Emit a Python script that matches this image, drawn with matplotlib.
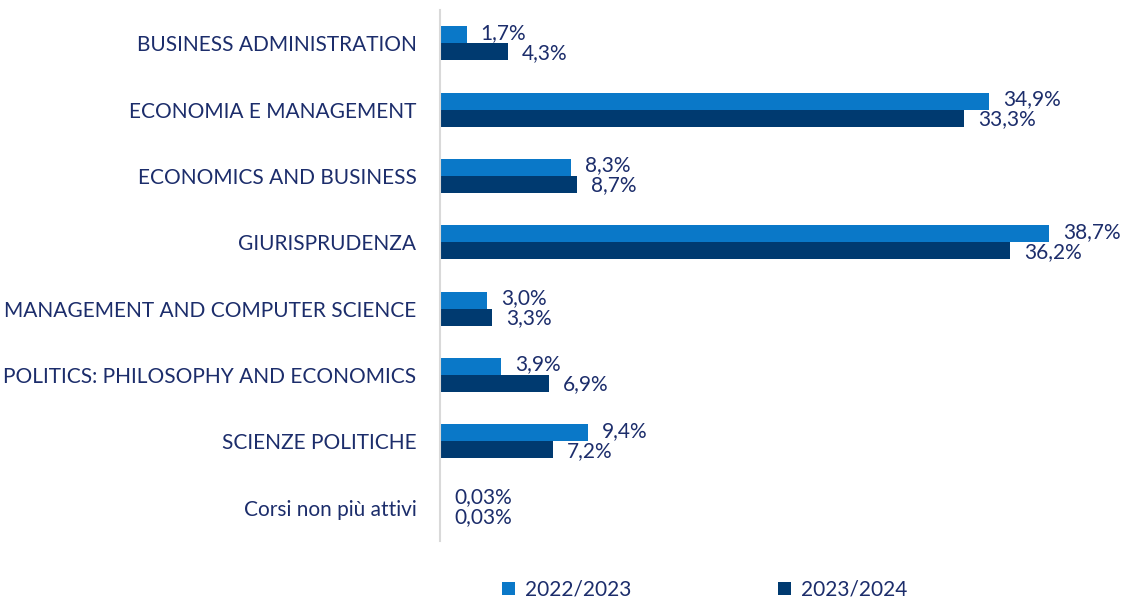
import numpy as np
import matplotlib.pyplot as plt

plt.rcParams['font.family'] = ['Lato', 'DejaVu Sans']

corsi = ['BUSINESS ADMINISTRATION', 'ECONOMIA E MANAGEMENT', 'ECONOMICS AND BUSINESS',
         'GIURISPRUDENZA', 'MANAGEMENT AND COMPUTER SCIENCE',
         'POLITICS: PHILOSOPHY AND ECONOMICS', 'SCIENZE POLITICHE', 'Corsi non più attivi']
anno_2223 = [1.7, 34.9, 8.3, 38.7, 3.0, 3.9, 9.4, 0.03]
anno_2324 = [4.3, 33.3, 8.7, 36.2, 3.3, 6.9, 7.2, 0.03]
serie = ['2022/2023', '2023/2024']

chiaro = '#0a78c8'
scuro = '#003a70'
testo = '#1c2d6b'

fig = plt.figure(figsize=(11.21, 5.98), dpi=100)
ax = fig.add_axes([440/1121, 1-541/598, 661/1121, 531/598])

y = np.arange(len(corsi))
h = 0.256
b1 = ax.barh(y - h/2, anno_2223, height=h, color=chiaro, label=serie[0])
b2 = ax.barh(y + h/2, anno_2324, height=h, color=scuro, label=serie[1])

def fmt(v):
    s = ('%.2f' % v) if v < 0.1 else ('%.1f' % v)
    return s.replace('.', ',') + '%'

for i in range(len(corsi)):
    ax.annotate(fmt(anno_2223[i]), (anno_2223[i], y[i] - h/2), xytext=(14, 2),
                textcoords='offset pixels', va='center', ha='left', fontsize=15, color=testo)
    ax.annotate(fmt(anno_2324[i]), (anno_2324[i], y[i] + h/2), xytext=(14, -1),
                textcoords='offset pixels', va='center', ha='left', fontsize=15, color=testo)

ax.set_xlim(0, 42)
ax.set_ylim(len(corsi) - 0.5, -0.5)
ax.set_yticks(y)
ax.set_yticklabels(corsi, fontsize=15, color=testo)
ax.tick_params(axis='y', length=0, pad=17)
ax.set_xticks([])
for s in ['top', 'right', 'bottom']:
    ax.spines[s].set_visible(False)
ax.spines['left'].set_color('#d9d9d9')
ax.spines['left'].set_linewidth(1.5)

fig.legend(handles=[b1, b2], labels=serie, loc='center', bbox_to_anchor=(705/1121, 1-590/598),
           ncol=2, frameon=False, fontsize=15, labelcolor=testo, handlelength=0.6,
           handleheight=0.6, handletextpad=0.5, columnspacing=7.05)

fig.savefig('out.png', dpi=100)
